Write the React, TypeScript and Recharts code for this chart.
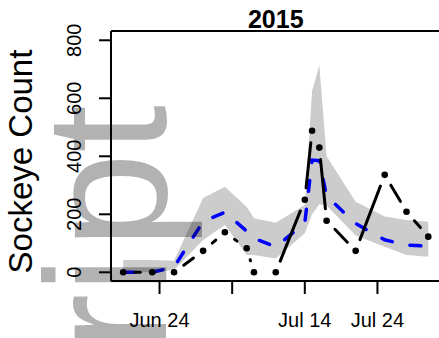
import React from "react";
import { ComposedChart, Area, Line, XAxis, YAxis, ReferenceLine } from "recharts";

// survey days, counted from Jun 24 2015
const days = [-5, -1, 2, 6, 9, 12, 13, 16, 20, 21, 22, 23, 27, 31, 34, 37];
const observed = [0, 0, 0, 74, 138, 83, 0, 0, 250, 488, 430, 178, 74, 336, 209, 123];
const predicted = [0, 0, 18, 175, 207, 142, 117, 88, 170, 387, 385, 263, 168, 112, 94, 90];
const lower = [0, 0, 8, 111, 163, 60, 60, 48, 135, 200, 235, 230, 127, 88, 60, 54];
const upper = [42, 42, 40, 256, 295, 225, 186, 171, 232, 625, 714, 400, 243, 192, 180, 174];

const xTicks = [0, 10, 20, 30];
const xTickLabels = ["Jun 24", "", "Jul 14", "Jul 24"];
const yTicks = [0, 200, 400, 600, 800];

const X_DOMAIN: [number, number] = [-6.68, 38.68];
const Y_DOMAIN: [number, number] = [-30, 832];
const FONT = "'Liberation Sans', Arial, Helvetica, sans-serif";
const GAP = 12; // gap left around each point (type = "b" look)

const data = days.map((d, i) => ({
  day: d,
  obs: observed[i],
  fit: predicted[i],
  band: [lower[i], upper[i]],
}));

const XTick = ({ x, y, payload }: any) => (
  <text x={x} y={y + 30.5} textAnchor="middle" fontSize={20} fontFamily={FONT} fill="#000">
    {xTickLabels[xTicks.indexOf(payload.value)]}
  </text>
);

const YTick = ({ x, y, payload }: any) => {
  const bx = x - 15.5;
  return (
    <text x={bx} y={y} transform={`rotate(-90 ${bx} ${y})`} textAnchor="middle" fontSize={20} fontFamily={FONT} fill="#000">
      {payload.value}
    </text>
  );
};

// points drawn with a broken connecting segment, like R's type = "b"
let last: { x: number; y: number } | null = null;
function ObsPoint(props: any) {
  const { cx, cy, index } = props;
  if (cx == null || cy == null) return <g key={`obs-${index}`} />;
  const prev = index === 0 ? null : last;
  last = { x: cx, y: cy };
  let seg = null;
  if (prev) {
    const dx = cx - prev.x;
    const dy = cy - prev.y;
    const len = Math.hypot(dx, dy);
    if (len > 2 * GAP) {
      const ux = dx / len;
      const uy = dy / len;
      seg = (
        <line
          x1={prev.x + ux * GAP} y1={prev.y + uy * GAP}
          x2={cx - ux * GAP} y2={cy - uy * GAP}
          stroke="#000" strokeWidth={3} strokeLinecap="round"
        />
      );
    }
  }
  return (
    <g key={`obs-${index}`}>
      {seg}
      <circle cx={cx} cy={cy} r={3.3} fill="#000" />
    </g>
  );
}

export default function App() {
  return (
    <div style={{ position: "fixed", left: 0, top: 0, width: 439, height: 338, overflow: "hidden", background: "#fff" }}>
      <ComposedChart width={441} height={338} data={data} margin={{ top: 31, right: 0.5, bottom: 0, left: 0 }}>
        <XAxis
          type="number"
          dataKey="day"
          domain={X_DOMAIN}
          allowDataOverflow
          ticks={xTicks}
          interval={0}
          height={57}
          tickSize={13}
          tickMargin={2}
          axisLine={{ stroke: "#000", strokeWidth: 2 }}
          tickLine={{ stroke: "#000", strokeWidth: 2 }}
          tick={<XTick />}
        />
        <YAxis
          type="number"
          domain={Y_DOMAIN}
          allowDataOverflow
          ticks={yTicks}
          interval={0}
          width={111}
          tickSize={12}
          tickMargin={2}
          axisLine={{ stroke: "#000", strokeWidth: 2 }}
          tickLine={{ stroke: "#000", strokeWidth: 2 }}
          tick={<YTick />}
        />
        <ReferenceLine y={Y_DOMAIN[1]} stroke="#000" strokeWidth={2} />
        <Area type="linear" dataKey="band" stroke="none" fill="#cccccc" fillOpacity={1} isAnimationActive={false} />
        <Line
          type="linear"
          dataKey="fit"
          stroke="#0000ff"
          strokeWidth={3.5}
          strokeDasharray="11 18"
          strokeLinecap="round"
          dot={false}
          activeDot={false}
          isAnimationActive={false}
        />
        <Line
          type="linear"
          dataKey="obs"
          stroke="none"
          dot={ObsPoint}
          activeDot={false}
          isAnimationActive={false}
        />
      </ComposedChart>
      <svg width={439} height={338} style={{ position: "absolute", left: 0, top: 0, pointerEvents: "none" }}>
        <text x={275.75} y={28.3} textAnchor="middle" fontSize={25} fontWeight="bold" fontFamily={FONT} fill="#000">
          2015
        </text>
        <text x={31.5} y={161.5} transform="rotate(-90 31.5 161.5)" textAnchor="middle" fontSize={33} fontFamily={FONT} fill="#000">
          Sockeye Count
        </text>
        <text x={166} y={105} transform="rotate(-90 166 105)" textAnchor="end" fontSize={172} fontFamily={FONT} fill="#000" fillOpacity={0.3}>
          ri<tspan dx={7}>pt</tspan>
        </text>
      </svg>
    </div>
  );
}
